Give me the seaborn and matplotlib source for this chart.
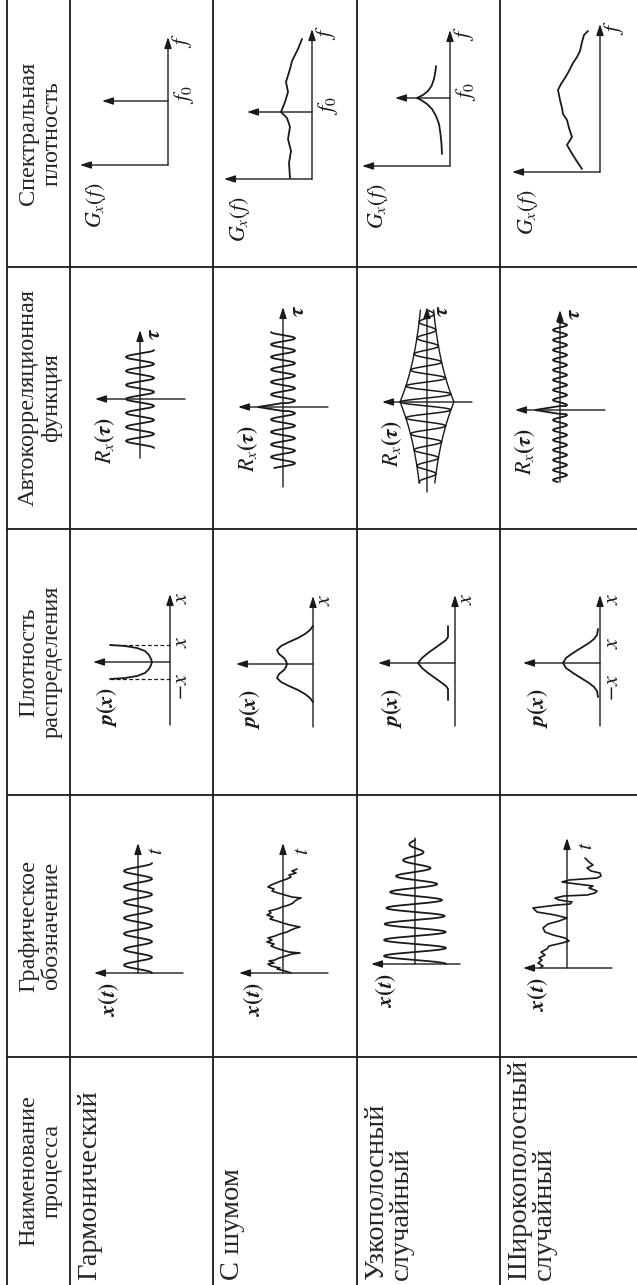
import numpy as np
import matplotlib.pyplot as plt
import seaborn as sns

sns.set_theme(style="white")
plt.rcParams["font.family"] = ["Liberation Serif", "DejaVu Serif"]
plt.rcParams["mathtext.fontset"] = "stix"

W, H = 637, 1285

# table text
headers = ["Наименование\nпроцесса", "Графическое\nобозначение", "Плотность\nраспределения",
           "Автокорреляционная\nфункция", "Спектральная\nплотность"]
processes = ["Гармонический", "С шумом", "Узкополосный\nслучайный", "Широкополосный\nслучайный"]

# --- signals x(t) ---
harm_amp, harm_period, harm_len = 14, 15.7, 110
noise_t = [0, 2, 4, 5, 7, 9, 10, 12, 13, 15, 17, 19, 20, 21, 23, 25, 27, 29, 31, 33, 35, 37,
           39, 41, 43, 45, 46, 48, 50, 52, 54, 56, 58, 60, 62, 64, 66, 68, 70, 72, 74, 75,
           76, 78, 80, 82, 84, 86, 88, 90, 92, 94, 96, 98, 100, 102, 104]
noise_x = [-8, -2, 6, 3, 12, 15, 9, 14, 8, 4, -3, -9, -17, -6, 1, 7, 12, 9, 16, 11, 15, 8,
           3, -4, -8, -13, -17, -7, 0, 6, 13, 10, 16, 12, 14, 6, 1, -6, -10, -12, -15, -18,
           -9, -2, 5, 11, 9, 15, 12, 7, 2, -4, -8, -6, -13, -9, -14]
narrow_amp, narrow_width, narrow_period, narrow_len = 31, 105, 16, 124
wide_t = [0, 2, 5, 8, 10, 13, 16, 19, 22, 25, 27, 30, 33, 36, 40, 44, 47, 50, 53, 56, 60, 63,
          64, 66, 68, 70, 72, 73, 75, 77, 80, 82, 84, 86, 88, 90, 92, 95, 97, 100, 103, 106, 110]
wide_x = [27, 24, 29, 25, 28, 22, 26, 20, 18, 5, -2, 2, 14, 22, 24, 19, 8, 0, 12, 30, 34, 10,
          -3, -5, 8, 12, 3, -20, -28, -30, -22, -26, -10, 5, -2, -30, -34, -33, -24, -20, -26,
          -22, -18]

# --- densities p(x) ---
u_harm = [-17, -16.5, -16, -14, -11, -7, -3, 0, 3, 7, 11, 14, 16, 16.5, 17]
p_harm = [60, 52, 45, 33, 25, 21, 19, 18, 19, 21, 25, 33, 45, 52, 60]
u_noise = [-38, -34, -30, -26, -22, -18, -14, -10, -6, -3, 0, 3, 6, 10, 14, 18, 22, 26, 30, 34, 38]
p_noise = [0, 3, 8, 15, 24, 32, 36, 34, 29, 27, 26, 27, 29, 34, 36, 32, 24, 15, 8, 3, 0]
u_narrow = [-37, -26, -23, -20, -15, -10, -5, 0, 5, 10, 15, 20, 23, 26, 37]
p_narrow = [7, 7, 9, 13, 20, 27, 33, 37, 33, 27, 20, 13, 9, 7, 7]
u_wide = [-34, -28, -24, -20, -15, -10, -5, 0, 5, 10, 15, 20, 24, 28, 34]
p_wide = [2, 3, 6, 11, 19, 27, 34, 37, 34, 27, 19, 11, 6, 3, 2]

# --- autocorrelations R(tau) ---
r_harm = dict(amp=14, period=14, lo=-49, hi=49)
r_noise = dict(amp=12, period=12.5, lo=-61, hi=75, spike=25)
r_narrow = dict(amp=27, decay=65, period=16, lo=-81, hi=92)
r_wide = dict(amp=7, period=10, lo=-72, hi=88, spike=25)

# --- spectral densities G(f) ---
f_noise = [1, 16, 28, 40, 52, 61, 67, 77, 87, 97, 110, 118, 130, 140]
g_noise = [22, 23, 21, 24, 22, 25, 31, 27, 24, 26, 22, 20, 14, 10]
f_narrow = [12, 22, 32, 42, 50, 57, 62, 66, 68, 71, 75, 80, 87, 95, 100]
g_narrow = [8, 8.5, 9.5, 11, 14, 18, 23, 29, 33, 27, 22, 18.5, 16, 14.5, 14]
f_wide = [3, 12, 20, 27, 35, 44, 52, 58, 64, 72, 82, 88, 94, 101, 109, 115, 121, 130, 137, 141]
g_wide = [18, 24, 29, 33, 28, 31, 33, 37, 38, 40, 42, 39, 35, 31, 27, 23, 20, 18, 16, 12]

# table grid (image px)
row_edges = [7, 70, 213, 357, 500, 637]
col_edges = [1285, 1057, 795, 529, 267, 0]

fig = plt.figure(figsize=(W / 100, H / 100), dpi=100)
fig.patch.set_facecolor("white")
renderer = fig.canvas.get_renderer()
LW = 1.1


def fit_size(s, px):
    """font size (pt) at which string s is px pixels long"""
    t = fig.text(0, 0, s, fontsize=10)
    w = t.get_window_extent(renderer).width
    t.remove()
    return 10 * px / w


FS_HEAD = fit_size("Автокорреляционная", 218)
FS_NAME = fit_size("Гармонический", 190)
FS_MATH = fit_size(r"$\boldsymbol{x(t)}$", 35)


def panel(row, col, ox, oy):
    """axes over one table cell; data units = px, v to the left, u upwards"""
    x0, x1 = row_edges[row + 1], row_edges[row + 2]
    yb, yt = col_edges[col], col_edges[col + 1]
    ax = fig.add_axes([x0 / W, 1 - yb / H, (x1 - x0) / W, (yb - yt) / H])
    ax.set_xlim(ox - x0, ox - x1)
    ax.set_ylim(oy - yb, oy - yt)
    ax.set_axis_off()
    return ax


def arrow(ax, p0, p1, head=True):
    style = "-|>,head_length=0.55,head_width=0.18" if head else "-"
    ax.annotate("", xy=p1, xytext=p0,
                arrowprops=dict(arrowstyle=style, lw=LW * 0.9, color="k",
                                shrinkA=0, shrinkB=0))


def label(ax, v, u, s, size=None):
    ax.text(v, u, s, rotation=90, ha="center", va="center", fontsize=size or FS_MATH,
            color="k")


def curve(ax, u, v, **kw):
    sns.lineplot(x=np.asarray(v, float), y=np.asarray(u, float), ax=ax, color="k",
                 lw=kw.pop("lw", 1.3), sort=False, estimator=None, **kw)


# ---------- grid and header text ----------
bg = fig.add_axes([0, 0, 1, 1])
bg.set_xlim(0, W)
bg.set_ylim(H, 0)
bg.set_axis_off()
for x in row_edges[:-1]:
    bg.plot([x, x], [0, H], color="k", lw=1.3)
for y in col_edges[1:-1]:
    bg.plot([row_edges[0], W], [y, y], color="k", lw=1.3)

for i, txt in enumerate(headers):
    yc = (col_edges[i] + col_edges[i + 1]) / 2
    bg.text(40, yc, txt, rotation=90, ha="center", va="center", fontsize=FS_HEAD,
            linespacing=1.15, multialignment="center")

for r, txt in enumerate(processes):
    bg.text(row_edges[r + 1] + 7, 1280, txt, rotation=90, ha="left", va="top",
            rotation_mode="anchor", fontsize=FS_NAME, linespacing=1.0)

# ---------- column "Графическое обозначение" ----------
sig_origin = [(138, 973), (283, 973), (415, 964), (567, 968)]
sig_axes = []
for r, (ox, oy) in enumerate(sig_origin):
    ax = panel(r, 1, ox, oy)
    sig_axes.append(ax)
    arrow(ax, (-45, 0), (44, 0))
    if r == 2:
        arrow(ax, (0, 0), (0, 126), head=False)
    else:
        arrow(ax, (0, 0), (0, 130))
        label(ax, -20, 122, r"$t$")
    label(ax, 29, -26, r"$\boldsymbol{x(t)}$")

tt = np.linspace(0, harm_len, 600)
curve(sig_axes[0], tt, -harm_amp * np.cos(2 * np.pi * tt / harm_period))
curve(sig_axes[1], noise_t, noise_x, lw=1.2)
tt = np.linspace(0, narrow_len, 600)
curve(sig_axes[2], tt, -narrow_amp * np.exp(-(tt / narrow_width) ** 4)
      * np.cos(2 * np.pi * tt / narrow_period))
curve(sig_axes[3], wide_t, wide_x, lw=1.2)

# ---------- column "Плотность распределения" ----------
den_origin = [(170, 662), (313, 664), (455, 663), (600, 663)]
den_data = [(u_harm, p_harm), (u_noise, p_noise), (u_narrow, p_narrow), (u_wide, p_wide)]
for r, ((ox, oy), (uu, pp)) in enumerate(zip(den_origin, den_data)):
    ax = panel(r, 2, ox, oy)
    arrow(ax, (0, 0), (77, 0))
    arrow(ax, (0, -63), (0, 68))
    label(ax, -13, 64, r"$x$")
    label(ax, 63, -45, r"$\boldsymbol{p(x)}$")
    curve(ax, uu, pp)
    if r == 0:
        for uedge in (u_harm[0], u_harm[-1]):
            ax.plot([0, p_harm[0]], [uedge, uedge], color="k", lw=0.9, ls=(0, (3, 2)))
    if r in (0, 3):
        label(ax, -13, -25, r"$-x$")
        label(ax, -13, 20, r"$x$")

# ---------- column "Автокорреляционная функция" ----------
acf_origin = [(140, 399), (283, 407), (427, 402), (560, 410)]
acf_axis = [(-59, 69), (-80, 100), (-90, 95), (-72, 100)]
for r, ((ox, oy), (ulo, uhi)) in enumerate(zip(acf_origin, acf_axis)):
    ax = panel(r, 3, ox, oy)
    arrow(ax, (-45, 0), (45, 0))
    arrow(ax, (0, ulo), (0, uhi))
    label(ax, -16, uhi - 4, r"$\boldsymbol{\tau}$")
    label(ax, 35, -42, r"$\boldsymbol{R_x(\tau)}$")

    if r == 0:
        c = r_harm
        tt = np.linspace(c["lo"], c["hi"], 600)
        curve(ax, tt, c["amp"] * np.cos(2 * np.pi * tt / c["period"]))
    elif r in (1, 3):
        c = r_noise if r == 1 else r_wide
        tt = np.linspace(c["lo"], c["hi"], 800)
        vv = c["amp"] * np.cos(2 * np.pi * tt / c["period"])
        vv = np.where(np.abs(tt) < 4, np.maximum(vv, c["spike"] * (1 - np.abs(tt) / 4)), vv)
        curve(ax, tt, vv)
    else:
        c = r_narrow
        tt = np.linspace(c["lo"], c["hi"], 800)
        env = c["amp"] * np.exp(-np.abs(tt) / c["decay"])
        curve(ax, tt, env * np.cos(2 * np.pi * tt / c["period"]), lw=1.1)
        curve(ax, tt, env, lw=1.0)
        curve(ax, tt, -env, lw=1.0)

# ---------- column "Спектральная плотность" ----------
spec_origin = [(168, 165), (312, 179), (450, 166), (600, 172)]
spec_top = [128, 150, 136, 148]
spec_f0 = [(64, 66), (67, 65), (68, 55), None]
spec_data = [None, (f_noise, g_noise), (f_narrow, g_narrow), (f_wide, g_wide)]
for r in range(4):
    ox, oy = spec_origin[r]
    ax = panel(r, 4, ox, oy)
    arrow(ax, (0, 0), (88, 0))
    arrow(ax, (0, 0), (0, spec_top[r]))
    label(ax, -14, spec_top[r] - 4, r"$f$")
    label(ax, 72, -40, r"$G_x(f)$")
    if spec_f0[r] is not None:
        uf, vf = spec_f0[r]
        arrow(ax, (0, uf), (vf, uf))
        label(ax, -16, uf + 6, r"$f_0$")
    if spec_data[r] is not None:
        curve(ax, *spec_data[r])

fig.savefig("out.png", dpi=100, facecolor="white")
